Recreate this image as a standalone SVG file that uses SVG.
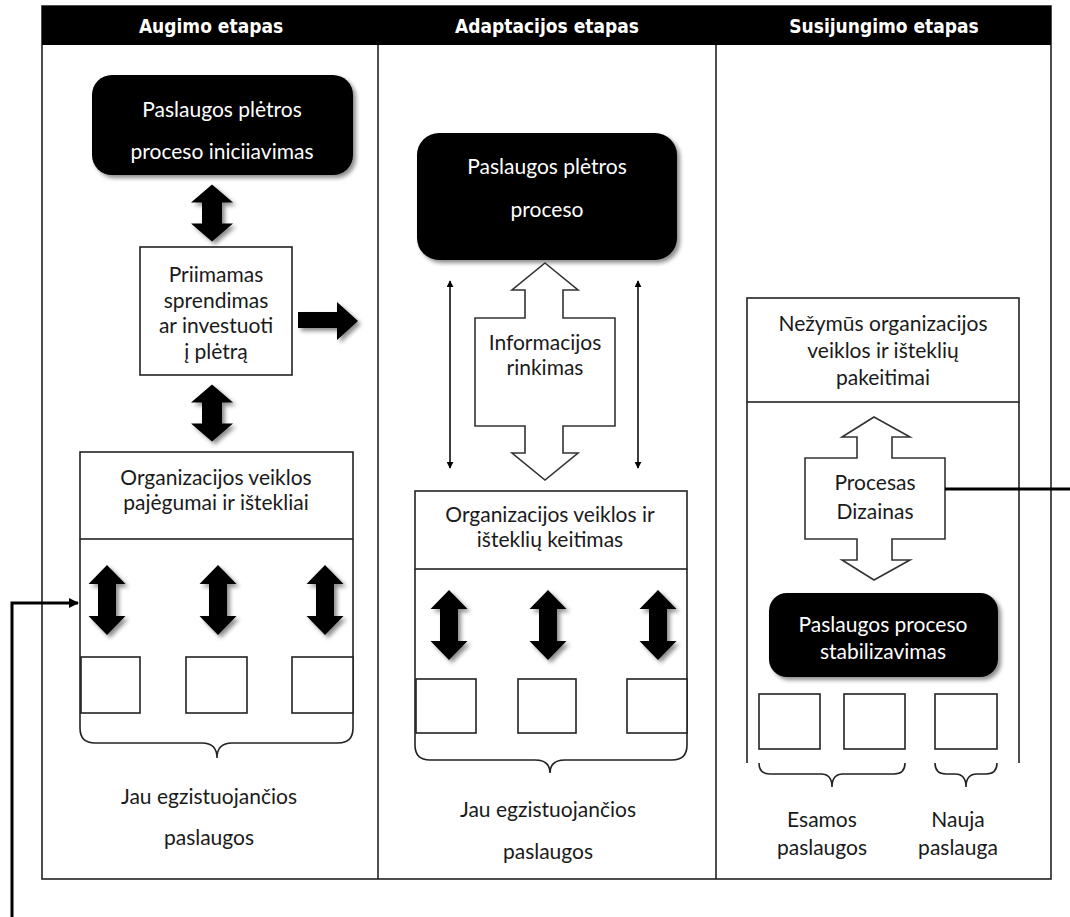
<svg xmlns="http://www.w3.org/2000/svg" width="1070" height="917" viewBox="0 0 1070 917">
<defs>
<style>
.frame{fill:none;stroke:#222;stroke-width:1.6}
.box{fill:#fff;stroke:#222;stroke-width:1.6}
.line{fill:none;stroke:#222;stroke-width:1.6}
.blk{fill:#000;filter:url(#sh)}
.hdr{font-family:"DejaVu Sans Condensed","DejaVu Sans",sans-serif;font-weight:bold;font-size:19px;fill:#fff;text-anchor:middle}
.t{font-family:Lato,"Liberation Sans",sans-serif;font-size:21px;fill:#1a1a1a;text-anchor:middle}
.tw{font-family:Lato,"Liberation Sans",sans-serif;font-size:21px;fill:#fff;text-anchor:middle}
.hollow{fill:#fff;stroke:#333;stroke-width:1.6}
.thin{fill:none;stroke:#000;stroke-width:1.5;marker-start:url(#ah);marker-end:url(#ah)}
.conn{fill:none;stroke:#000;stroke-width:3}
</style>
<filter id="sh" x="-20%" y="-20%" width="150%" height="150%">
<feDropShadow dx="3" dy="3" stdDeviation="2" flood-color="#000" flood-opacity="0.45"/>
</filter>
<marker id="ah" viewBox="0 0 10 10" refX="9" refY="5" markerWidth="7" markerHeight="7" markerUnits="userSpaceOnUse" orient="auto-start-reverse">
<path d="M0,0 L10,5 L0,10 Z" fill="#000"/>
</marker>
<marker id="ah2" viewBox="0 0 10 10" refX="9" refY="5" markerWidth="12" markerHeight="10" markerUnits="userSpaceOnUse" orient="auto">
<path d="M0,0 L10,5 L0,10 Z" fill="#000"/>
</marker>
<path id="dbl-big" d="M0,-28.5 L21,-10.5 L10,-10.5 L10,10.5 L21,10.5 L0,28.5 L-21,10.5 L-10,10.5 L-10,-10.5 L-21,-10.5 Z"/>
<path id="dbl-sm" d="M0,-35 L18.5,-16 L9,-16 L9,16 L18.5,16 L0,35 L-18.5,16 L-9,16 L-9,-16 L-18.5,-16 Z"/>
</defs>

<rect width="1070" height="917" fill="#fff"/>

<g id="frame">
<rect x="42" y="6" width="1009" height="873" class="frame"/>
<rect x="42" y="6" width="1009" height="39" fill="#000"/>
<line x1="378" y1="45" x2="378" y2="879" class="line"/>
<line x1="716" y1="45" x2="716" y2="879" class="line"/>
<text x="211" y="33" class="hdr">Augimo etapas</text>
<text x="547" y="33" class="hdr">Adaptacijos etapas</text>
<text x="884" y="33" class="hdr">Susijungimo etapas</text>
</g>

<!-- Left column -->
<g id="n-init">
<rect x="92" y="75" width="261" height="100" rx="20" class="blk"/>
<text x="222" y="117" class="tw">Paslaugos plėtros</text>
<text x="222" y="159" class="tw">proceso iniciiavimas</text>
</g>
<g id="n-decision">
<rect x="140" y="247" width="152" height="128" class="box"/>
<text x="216" y="282" class="t">Priimamas</text>
<text x="216" y="308" class="t">sprendimas</text>
<text x="216" y="333" class="t">ar investuoti</text>
<text x="216" y="359" class="t">į plėtrą</text>
</g>
<g id="n-org-left">
<rect x="80" y="452" width="273" height="87" class="box"/>
<path d="M80,539 L80,728 Q80,743 95,743 L202,743 Q217,743 217,758 Q217,743 232,743 L338,743 Q353,743 353,728 L353,539" class="line"/>
<text x="216" y="485" class="t">Organizacijos veiklos</text>
<text x="216" y="510" class="t">pajėgumai ir ištekliai</text>
<rect x="81" y="657" width="59" height="56" class="box"/>
<rect x="186" y="657" width="61" height="56" class="box"/>
<rect x="292" y="657" width="61" height="56" class="box"/>
<use href="#dbl-sm" x="107" y="600" class="blk"/>
<use href="#dbl-sm" x="218" y="600" class="blk"/>
<use href="#dbl-sm" x="325" y="600" class="blk"/>
<text x="209" y="804" class="t">Jau egzistuojančios</text>
<text x="209" y="845" class="t">paslaugos</text>
</g>

<!-- Middle column -->
<g id="n-process">
<rect x="417" y="133" width="260" height="127" rx="22" class="blk"/>
<text x="547" y="174" class="tw">Paslaugos plėtros</text>
<text x="547" y="217" class="tw">proceso</text>
</g>
<g id="n-info">
<path d="M545,263 L578,290 L563,290 L563,318 L615,318 L615,426 L563,426 L563,453 L578,453 L545,480 L512,453 L525,453 L525,426 L475,426 L475,318 L525,318 L525,290 L512,290 Z" class="hollow"/>
<text x="545" y="350" class="t">Informacijos</text>
<text x="545" y="375" class="t">rinkimas</text>
</g>
<g id="n-org-mid">
<rect x="415" y="491" width="272" height="78" class="box"/>
<path d="M415,569 L415,745 Q415,760 430,760 L535,760 Q550,760 550,773 Q550,760 565,760 L672,760 Q687,760 687,745 L687,569" class="line"/>
<text x="550" y="522" class="t">Organizacijos veiklos ir</text>
<text x="550" y="547" class="t">išteklių keitimas</text>
<rect x="416" y="679" width="60" height="54" class="box"/>
<rect x="518" y="679" width="58" height="54" class="box"/>
<rect x="627" y="679" width="60" height="54" class="box"/>
<use href="#dbl-sm" x="449" y="625" class="blk"/>
<use href="#dbl-sm" x="548" y="625" class="blk"/>
<use href="#dbl-sm" x="658" y="625" class="blk"/>
<text x="548" y="817" class="t">Jau egzistuojančios</text>
<text x="548" y="859" class="t">paslaugos</text>
</g>

<!-- Right column -->
<g id="n-changes">
<rect x="747" y="298" width="272" height="104" class="box"/>
<path d="M747,402 L747,763 M1019,402 L1019,763" class="line"/>
<text x="883" y="331" class="t">Nežymūs organizacijos</text>
<text x="883" y="358" class="t">veiklos ir išteklių</text>
<text x="883" y="385" class="t">pakeitimai</text>
</g>
<g id="n-design">
<path d="M874,417 L910,437 L892,437 L892,458 L945,458 L945,539 L892,539 L892,560 L910,560 L874,580 L842,560 L857,560 L857,539 L805,539 L805,458 L857,458 L857,437 L842,437 Z" class="hollow"/>
<text x="875" y="490" class="t">Procesas</text>
<text x="875" y="519" class="t">Dizainas</text>
</g>
<g id="n-stab">
<rect x="769" y="593" width="229" height="84" rx="18" class="blk"/>
<text x="883" y="632" class="tw">Paslaugos proceso</text>
<text x="883" y="659" class="tw">stabilizavimas</text>
</g>
<g id="n-services-right">
<rect x="759" y="694" width="61" height="55" class="box"/>
<rect x="844" y="694" width="61" height="55" class="box"/>
<rect x="935" y="694" width="62" height="55" class="box"/>
<path d="M759,763 Q759,774 770,774 L821,774 Q832,774 832,787 Q832,774 843,774 L894,774 Q905,774 905,763" class="line"/>
<path d="M935,763 Q935,774 946,774 L955,774 Q966,774 966,787 Q966,774 977,774 L986,774 Q997,774 997,763" class="line"/>
<text x="822" y="827" class="t">Esamos</text>
<text x="822" y="855" class="t">paslaugos</text>
<text x="958" y="827" class="t">Nauja</text>
<text x="958" y="855" class="t">paslauga</text>
</g>

<g id="connectors">
<use href="#dbl-big" x="212" y="213" class="blk"/>
<use href="#dbl-big" x="212" y="413" class="blk"/>
<path d="M298,312 L337,312 L337,302 L358,321 L337,340 L337,328 L298,328 Z" class="blk"/>
<line x1="450" y1="281" x2="450" y2="468" class="thin"/>
<line x1="638" y1="281" x2="638" y2="468" class="thin"/>
<path d="M12,917 L12,603 L78,603" class="conn" marker-end="url(#ah2)"/>
<line x1="945" y1="489" x2="1070" y2="489" class="conn"/>
</g>
</svg>
